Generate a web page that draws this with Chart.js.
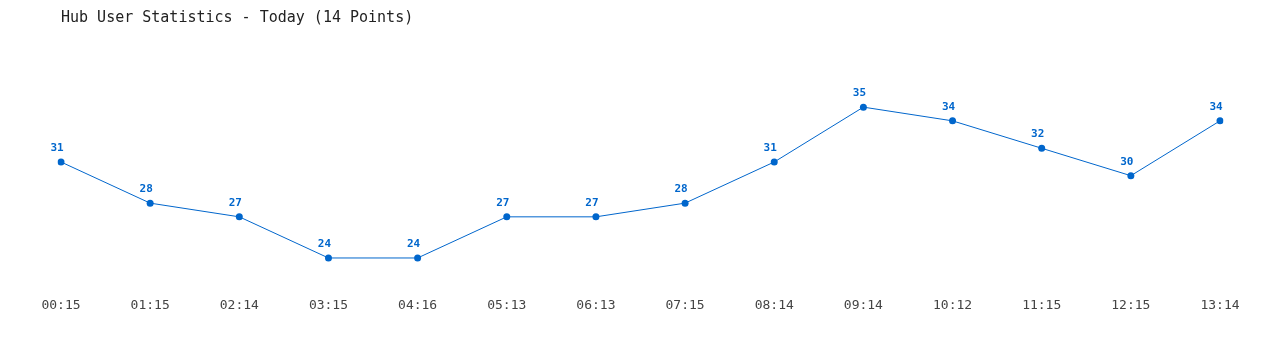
<!DOCTYPE html>
<html lang="en">
<head>
  <meta charset="UTF-8">
  <title>Hub User Statistics</title>
  <style>
    html, body { margin: 0; padding: 0; background: #fff; }
    .chart-container { width: 1280px; height: 350px; }
  </style>
</head>
<body>
  <div class="chart-container">
    <canvas id="hubChart"></canvas>
  </div>

  <script src="https://cdn.jsdelivr.net/npm/chart.js"></script>
  <script>
    const times = ['00:15', '01:15', '02:14', '03:15', '04:16', '05:13', '06:13',
                   '07:15', '08:14', '09:14', '10:12', '11:15', '12:15', '13:14'];
    const users = [31, 28, 27, 24, 24, 27, 27, 28, 31, 35, 34, 32, 30, 34];

    const blue = '#0066cc';
    const mono = '"DejaVu Sans Mono", "Liberation Mono", monospace';

    // numbers above each point
    const pointLabels = {
      id: 'pointLabels',
      afterDatasetsDraw(chart) {
        const c = chart.ctx;
        const meta = chart.getDatasetMeta(0);
        c.save();
        c.font = 'bold 11px ' + mono;
        c.fillStyle = blue;
        c.textAlign = 'center';
        c.textBaseline = 'middle';
        meta.data.forEach((pt, i) => {
          c.fillText(chart.data.datasets[0].data[i], pt.x - 4, pt.y - 14);
        });
        c.restore();
      }
    };

    new Chart(document.getElementById('hubChart'), {
      type: 'line',
      data: {
        labels: times,
        datasets: [{
          data: users,
          borderColor: blue,
          borderWidth: 1,
          backgroundColor: blue,
          pointBackgroundColor: blue,
          pointBorderWidth: 0,
          pointRadius: 3.5,
          pointHoverRadius: 3.5,
          tension: 0,
          fill: false
        }]
      },
      options: {
        responsive: true,
        maintainAspectRatio: false,
        animation: false,
        layout: { padding: { left: 61, right: 60, top: 9, bottom: 33 } },
        plugins: {
          legend: { display: false },
          tooltip: { enabled: false },
          title: {
            display: true,
            text: 'Hub User Statistics - Today (14 Points)',
            align: 'start',
            color: '#222',
            font: { family: mono, size: 15, weight: 'normal' },
            padding: { top: 0, bottom: 39 }
          }
        },
        scales: {
          x: {
            offset: false,
            grid: { display: false },
            border: { display: false },
            ticks: {
              color: '#444',
              font: { family: mono, size: 13 },
              padding: 4,
              maxRotation: 0,
              autoSkip: false
            }
          },
          y: {
            display: false,
            min: 22,
            max: 38
          }
        }
      },
      plugins: [pointLabels]
    });
  </script>
</body>
</html>
